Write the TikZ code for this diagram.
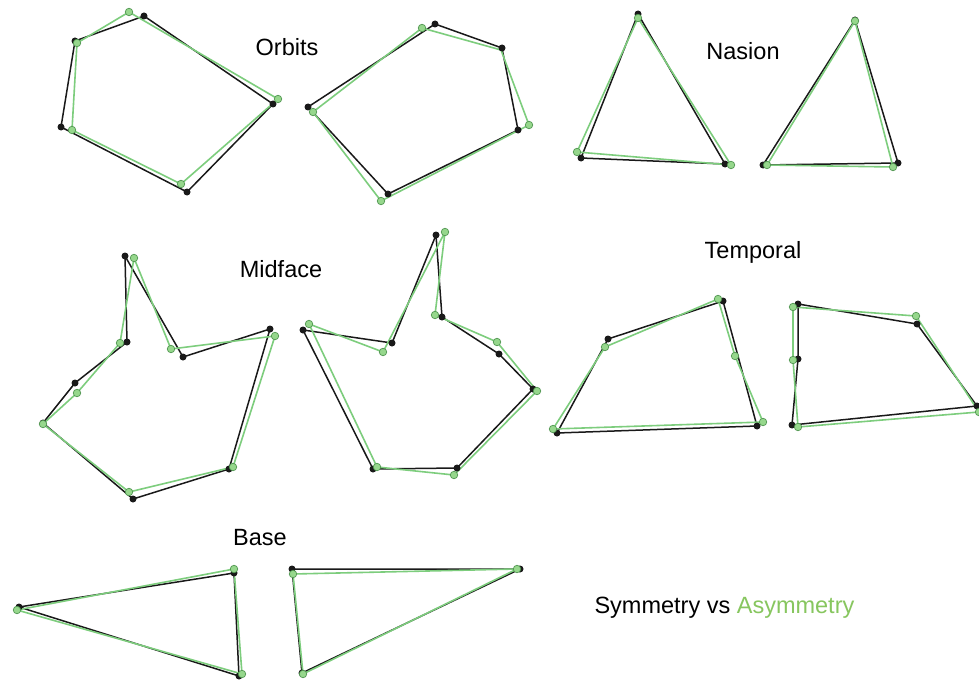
\documentclass[tikz,border=0pt]{standalone}
\usepackage{fontspec}
\setmainfont{Liberation Sans}
\definecolor{symblack}{RGB}{25,25,25}
\definecolor{asymline}{RGB}{125,205,125}
\definecolor{asymfill}{RGB}{150,215,140}
\definecolor{asymedge}{RGB}{80,150,80}
\definecolor{asymtext}{RGB}{135,198,95}
\tikzset{
  symline/.style={draw=symblack, line width=1.5pt, line join=round},
  asline/.style={draw=asymline, line width=1.6pt, line join=round},
  symdot/.style={circle, fill=symblack, inner sep=0pt, minimum size=7pt},
  asdot/.style={circle, fill=asymfill, draw=asymedge, line width=0.7pt, inner sep=0pt, minimum size=7.5pt},
  title/.style={font=\fontsize{23.5}{28}\selectfont, anchor=base, text=black}
}
\begin{document}
\begin{tikzpicture}[x=1pt,y=-1pt]
\useasboundingbox[fill=white] (0,0) rectangle (979,682);

% ---------- Orbits (left) ----------
\coordinate (OLb1) at (144,16);  \coordinate (OLb2) at (273,104);
\coordinate (OLb3) at (187,192); \coordinate (OLb4) at (61,127);
\coordinate (OLb5) at (75,41);
\coordinate (OLg1) at (129,12);  \coordinate (OLg2) at (278,99);
\coordinate (OLg3) at (181,184); \coordinate (OLg4) at (72,130);
\coordinate (OLg5) at (77,43);
% ---------- Orbits (right) ----------
\coordinate (ORb1) at (435,24);  \coordinate (ORb2) at (502,48);
\coordinate (ORb3) at (518,130); \coordinate (ORb4) at (388,194);
\coordinate (ORb5) at (308,107);
\coordinate (ORg1) at (422,28);  \coordinate (ORg2) at (501,50);
\coordinate (ORg3) at (529,125); \coordinate (ORg4) at (381,201);
\coordinate (ORg5) at (313,112);
% ---------- Nasion ----------
\coordinate (NLb1) at (638,14);  \coordinate (NLb2) at (725,164); \coordinate (NLb3) at (581,158);
\coordinate (NLg1) at (638,18);  \coordinate (NLg2) at (731,165); \coordinate (NLg3) at (577,152);
\coordinate (NRb1) at (855,20);  \coordinate (NRb2) at (898,163); \coordinate (NRb3) at (763,165);
\coordinate (NRg1) at (855,21);  \coordinate (NRg2) at (893,167); \coordinate (NRg3) at (767,165);
% ---------- Midface (left) ----------
\coordinate (MLb1) at (125,256); \coordinate (MLb2) at (183,357);
\coordinate (MLb3) at (270,329); \coordinate (MLb4) at (229,469);
\coordinate (MLb5) at (133,499); \coordinate (MLb6) at (43,423);
\coordinate (MLb7) at (75,383);  \coordinate (MLb8) at (127,342);
\coordinate (MLg1) at (134,258); \coordinate (MLg2) at (171,349);
\coordinate (MLg3) at (275,336); \coordinate (MLg4) at (233,467);
\coordinate (MLg5) at (129,492); \coordinate (MLg6) at (43,424);
\coordinate (MLg7) at (77,393);  \coordinate (MLg8) at (120,343);
% ---------- Midface (right) ----------
\coordinate (MRb1) at (303,330); \coordinate (MRb2) at (392,343);
\coordinate (MRb3) at (436,235); \coordinate (MRb4) at (442,317);
\coordinate (MRb5) at (499,354); \coordinate (MRb6) at (533,389);
\coordinate (MRb7) at (457,468); \coordinate (MRb8) at (373,469);
\coordinate (MRg1) at (309,324); \coordinate (MRg2) at (383,352);
\coordinate (MRg3) at (445,232); \coordinate (MRg4) at (435,315);
\coordinate (MRg5) at (497,342); \coordinate (MRg6) at (537,391);
\coordinate (MRg7) at (454,475); \coordinate (MRg8) at (377,467);
% ---------- Temporal ----------
\coordinate (TLb1) at (723,301); \coordinate (TLb2) at (757,426);
\coordinate (TLb3) at (557,433); \coordinate (TLb4) at (608,339);
\coordinate (TLg1) at (718,299); \coordinate (TLg2) at (735,356);
\coordinate (TLg3) at (763,422); \coordinate (TLg4) at (553,429);
\coordinate (TLg5) at (605,347);
\coordinate (TRb1) at (798,304); \coordinate (TRb2) at (917,324);
\coordinate (TRb3) at (977,406); \coordinate (TRb4) at (792,425);
\coordinate (TRb5) at (798,359);
\coordinate (TRg1) at (793,307); \coordinate (TRg2) at (916,316);
\coordinate (TRg3) at (979,412); \coordinate (TRg4) at (798,427);
\coordinate (TRg5) at (793,360);
% ---------- Base ----------
\coordinate (BLb1) at (19,607);  \coordinate (BLb2) at (234,573); \coordinate (BLb3) at (239,676);
\coordinate (BLg1) at (17,610);  \coordinate (BLg2) at (234,569); \coordinate (BLg3) at (242,674);
\coordinate (BRb1) at (292,569); \coordinate (BRb2) at (520,569); \coordinate (BRb3) at (302,673);
\coordinate (BRg1) at (293,574); \coordinate (BRg2) at (517,569); \coordinate (BRg3) at (303,674);

% ---------- symmetric outlines ----------
\draw[symline] (OLb1) -- (OLb2) -- (OLb3) -- (OLb4) -- (OLb5) -- cycle;
\draw[symline] (ORb1) -- (ORb2) -- (ORb3) -- (ORb4) -- (ORb5) -- cycle;
\draw[symline] (NLb1) -- (NLb2) -- (NLb3) -- cycle;
\draw[symline] (NRb1) -- (NRb2) -- (NRb3) -- cycle;
\draw[symline] (MLb1) -- (MLb2) -- (MLb3) -- (MLb4) -- (MLb5) -- (MLb6) -- (MLb7) -- (MLb8) -- cycle;
\draw[symline] (MRb1) -- (MRb2) -- (MRb3) -- (MRb4) -- (MRb5) -- (MRb6) -- (MRb7) -- (MRb8) -- cycle;
\draw[symline] (TLb1) -- (TLb2) -- (TLb3) -- (TLb4) -- cycle;
\draw[symline] (TRb1) -- (TRb2) -- (TRb3) -- (TRb4) -- (TRb5) -- cycle;
\draw[symline] (BLb1) -- (BLb2) -- (BLb3) -- cycle;
\draw[symline] (BRb1) -- (BRb2) -- (BRb3) -- cycle;

% ---------- asymmetric outlines ----------
\draw[asline] (OLg1) -- (OLg2) -- (OLg3) -- (OLg4) -- (OLg5) -- cycle;
\draw[asline] (ORg1) -- (ORg2) -- (ORg3) -- (ORg4) -- (ORg5) -- cycle;
\draw[asline] (NLg1) -- (NLg2) -- (NLg3) -- cycle;
\draw[asline] (NRg1) -- (NRg2) -- (NRg3) -- cycle;
\draw[asline] (MLg1) -- (MLg2) -- (MLg3) -- (MLg4) -- (MLg5) -- (MLg6) -- (MLg7) -- (MLg8) -- cycle;
\draw[asline] (MRg1) -- (MRg2) -- (MRg3) -- (MRg4) -- (MRg5) -- (MRg6) -- (MRg7) -- (MRg8) -- cycle;
\draw[asline] (TLg1) -- (TLg2) -- (TLg3) -- (TLg4) -- (TLg5) -- cycle;
\draw[asline] (TRg1) -- (TRg2) -- (TRg3) -- (TRg4) -- (TRg5) -- cycle;
\draw[asline] (BLg1) -- (BLg2) -- (BLg3) -- cycle;
\draw[asline] (BRg1) -- (BRg2) -- (BRg3) -- cycle;

% ---------- landmarks ----------
\foreach \p in {OLb1,OLb2,OLb3,OLb4,OLb5,ORb1,ORb2,ORb3,ORb4,ORb5,
                NLb1,NLb2,NLb3,NRb1,NRb2,NRb3,
                MLb1,MLb2,MLb3,MLb4,MLb5,MLb6,MLb7,MLb8,
                MRb1,MRb2,MRb3,MRb4,MRb5,MRb6,MRb7,MRb8,
                TLb1,TLb2,TLb3,TLb4,TRb1,TRb2,TRb3,TRb4,TRb5,
                BLb1,BLb2,BLb3,BRb1,BRb2,BRb3}
  \node[symdot] at (\p) {};
\foreach \p in {OLg1,OLg2,OLg3,OLg4,OLg5,ORg1,ORg3,ORg4,ORg5,
                NLg1,NLg2,NLg3,NRg1,NRg2,NRg3,
                MLg1,MLg2,MLg3,MLg4,MLg5,MLg6,MLg7,MLg8,
                MRg1,MRg2,MRg3,MRg4,MRg5,MRg6,MRg7,MRg8,
                TLg1,TLg2,TLg3,TLg4,TLg5,TRg1,TRg2,TRg3,TRg4,TRg5,
                BLg1,BLg2,BLg3,BRg1,BRg2,BRg3}
  \node[asdot] at (\p) {};

% ---------- labels ----------
\node[title] (lblOrbits)   at (287,56)  {Orbits};
\node[title] (lblNasion)   at (743,60)  {Nasion};
\node[title] (lblMidface)  at (281,277) {Midface};
\node[title] (lblTemporal) at (753,258) {Temporal};
\node[title] (lblBase)     at (260,545) {Base};
\node[title, anchor=base west] (lblKey) at (591,613)
  {Symmetry vs \textcolor{asymtext}{Asymmetry}};
\end{tikzpicture}
\end{document}
